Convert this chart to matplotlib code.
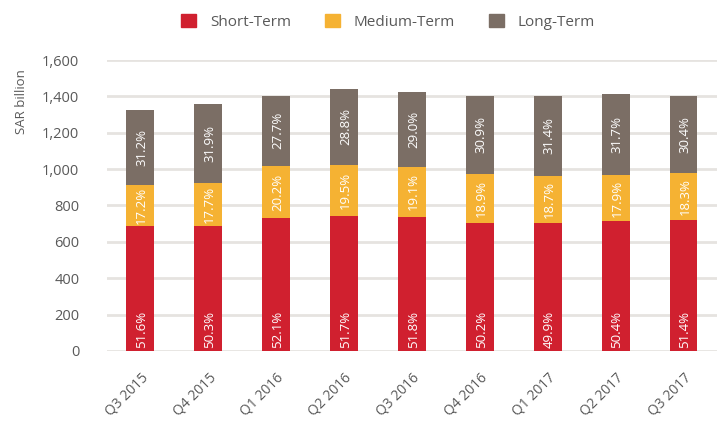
import matplotlib.pyplot as plt
from matplotlib.patches import Patch
import numpy as np

plt.rcParams['font.family'] = ['Open Sans', 'DejaVu Sans']

# Quarters and values (SAR billion)
quarters = ['Q3 2015', 'Q4 2015', 'Q1 2016', 'Q2 2016', 'Q3 2016',
            'Q4 2016', 'Q1 2017', 'Q2 2017', 'Q3 2017']
short_term = [685, 685, 732, 744, 739, 705, 701, 714, 722]
medium_term = [228, 241, 284, 281, 273, 266, 263, 253, 257]
long_term = [415, 435, 389, 415, 415, 434, 441, 449, 426]

# Share labels as printed on the bars
short_pct = ['51.6%', '50.3%', '52.1%', '51.7%', '51.8%', '50.2%', '49.9%', '50.4%', '51.4%']
medium_pct = ['17.2%', '17.7%', '20.2%', '19.5%', '19.1%', '18.9%', '18.7%', '17.9%', '18.3%']
long_pct = ['31.2%', '31.9%', '27.7%', '28.8%', '29.0%', '30.9%', '31.4%', '31.7%', '30.4%']

RED = '#D0202F'
ORANGE = '#F5B233'
BROWN = '#7B6E65'
GRID = '#E6E3E0'
TEXT = '#595959'

fig = plt.figure(figsize=(7.24, 4.29), dpi=100)
ax = fig.add_axes([0.148, 0.182, 0.842, 0.678])

x = np.arange(len(quarters))
w = 0.41
short = np.array(short_term)
med = np.array(medium_term)
lng = np.array(long_term)

ax.bar(x, short, w, color=RED, zorder=3)
ax.bar(x, med, w, bottom=short, color=ORANGE, zorder=3)
ax.bar(x, lng, w, bottom=short + med, color=BROWN, zorder=3)

for i in range(len(x)):
    ax.text(x[i] + 0.02, 14, short_pct[i], rotation=90, ha='center', va='bottom',
            color='white', fontsize=9.5, zorder=4)
    ax.text(x[i] + 0.02, short[i] + med[i] / 2, medium_pct[i], rotation=90,
            ha='center', va='center', color='white', fontsize=9.5, zorder=4)
    ax.text(x[i] + 0.02, short[i] + med[i] + lng[i] / 2, long_pct[i], rotation=90,
            ha='center', va='center', color='white', fontsize=9.5, zorder=4)

ax.set_ylim(0, 1600)
ax.set_xlim(-0.49, 8.49)
ax.set_yticks(np.arange(0, 1601, 200))
ax.set_yticklabels([f'{v:,}' for v in range(0, 1601, 200)])
ax.yaxis.grid(True, color=GRID, lw=2, zorder=0)
ax.set_axisbelow(True)
for s in ax.spines.values():
    s.set_visible(False)
ax.tick_params(axis='both', length=0, colors=TEXT, labelsize=10.5)
ax.tick_params(axis='y', pad=20)
ax.set_xticks(x)
ax.set_xticklabels(quarters, rotation=45, ha='right', rotation_mode='anchor')
ax.tick_params(axis='x', pad=14, labelsize=10)

fig.text(0.03, 1 - 102 / 429, 'SAR billion', rotation=90, ha='center', va='center',
         color=TEXT, fontsize=9.5)

handles = [Patch(color=RED, label='Short-Term'),
           Patch(color=ORANGE, label='Medium-Term'),
           Patch(color=BROWN, label='Long-Term')]
leg = fig.legend(handles=handles, loc='upper center', bbox_to_anchor=(0.536, 1.0),
                 ncol=3, frameon=False, fontsize=11, handlelength=1.0,
                 handleheight=1.0, columnspacing=2.2, handletextpad=0.9)
for t in leg.get_texts():
    t.set_color(TEXT)

fig.savefig('out.png', dpi=100)
